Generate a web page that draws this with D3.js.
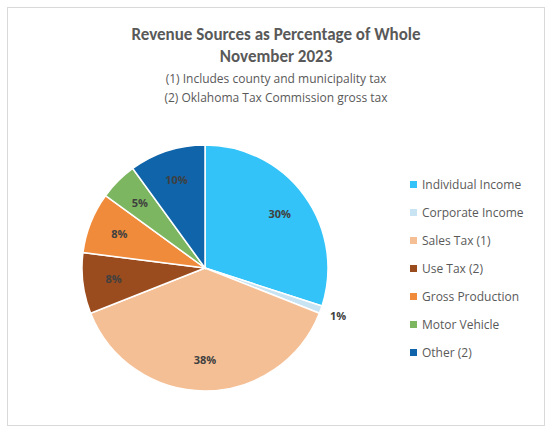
<!DOCTYPE html>
<html><head><meta charset="utf-8">
<script src="https://cdn.jsdelivr.net/npm/d3@7"></script>
<style>body{margin:0;background:#fff}</style>
</head><body>
<svg id="chart" width="552" height="436"></svg>
<script>
const categories = ['Individual Income', 'Corporate Income', 'Sales Tax (1)', 'Use Tax (2)', 'Gross Production', 'Motor Vehicle', 'Other (2)']
const values = [30, 1, 38, 8, 8, 5, 10]
const colors = ['#33c3f8', '#c8e3f2', '#f5bf95', '#9b4c1e', '#f08b3b', '#7db660', '#0f64aa']
const titleLines = ['Revenue Sources as Percentage of Whole', 'November 2023']
const noteLines = ['(1) Includes county and municipality tax', '(2) Oklahoma Tax Commission gross tax']

const svg = d3.select('#chart')
svg.append('rect').attr('x', 7.5).attr('y', 7.5).attr('width', 537).attr('height', 418)
    .attr('fill', '#fff').attr('stroke', '#d9d9d9')

svg.selectAll('text.title').data(titleLines).join('text').attr('class', 'title')
    .attr('x', 276).attr('y', (d, i) => 40 + i * 22).attr('text-anchor', 'middle')
    .style('font', 'bold 17px Calibri, Carlito, "Open Sans", sans-serif').attr('fill', '#595959').text(d => d)
svg.selectAll('text.note').data(noteLines).join('text').attr('class', 'note')
    .attr('x', 276).attr('y', (d, i) => 83 + i * 19).attr('text-anchor', 'middle')
    .style('font', '12px "Open Sans", sans-serif').attr('fill', '#595959').text(d => d)

const cx = 205, cy = 268, r = 123
const pie = d3.pie().sort(null).value(d => d)
const arcs = pie(values)
const arc = d3.arc().innerRadius(0).outerRadius(r)
const g = svg.append('g').attr('transform', `translate(${cx},${cy})`)
g.selectAll('path').data(arcs).join('path').attr('d', arc)
    .attr('fill', (d, i) => colors[i]).attr('stroke', '#fff').attr('stroke-width', 1.5)
const inner = d3.arc().innerRadius(r * 0.75).outerRadius(r * 0.75)
const outer = d3.arc().innerRadius(r * 1.15).outerRadius(r * 1.15)
g.selectAll('text').data(arcs).join('text')
    .attr('transform', d => `translate(${(d.data < 3 ? outer : inner).centroid(d)})`)
    .attr('text-anchor', 'middle').attr('dy', '0.35em')
    .style('font', 'bold 11px "Open Sans", sans-serif').attr('fill', '#404040')
    .text(d => d.data + '%')

const leg = svg.append('g').selectAll('g').data(categories).join('g')
    .attr('transform', (d, i) => `translate(410,${185 + i * 28})`)
leg.append('rect').attr('x', 0).attr('y', -4).attr('width', 7).attr('height', 7).attr('fill', (d, i) => colors[i])
leg.append('text').attr('x', 12).attr('dy', '0.35em')
    .style('font', '12px "Open Sans", sans-serif').attr('fill', '#595959').text(d => d)
</script>
</body></html>
